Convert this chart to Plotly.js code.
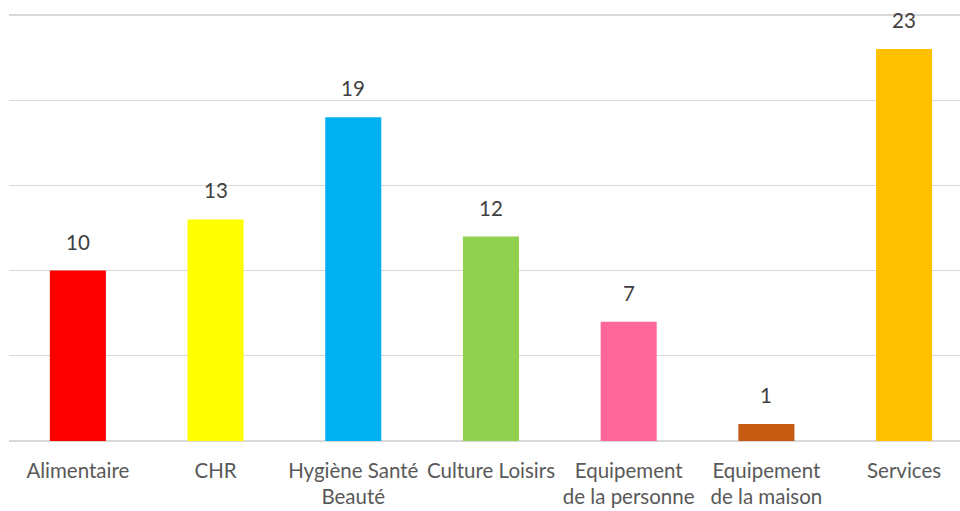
<!DOCTYPE html>
<html><head><meta charset="utf-8">
<script src="https://cdn.plot.ly/plotly-3.0.1.min.js"></script>
<style>html,body{margin:0;padding:0;background:#fff;}#chart{width:960px;height:511px;}</style>
</head><body><div id="chart"></div>
<script>
const categories = ["Alimentaire", "CHR", "Hygiène Santé<br>Beauté", "Culture Loisirs", "Equipement<br>de la personne", "Equipement<br>de la maison", "Services"];
const values = [10, 13, 19, 12, 7, 1, 23];
const barColors = ["#FF0000", "#FFFF00", "#00B0F0", "#92D050", "#FF6699", "#C55A11", "#FFC000"];
const yTicks = [0, 5, 10, 15, 20, 25];

const idx = categories.map((c, i) => i);
const trace = {
  type: 'bar', x: idx, y: values, width: 0.407,
  marker: {color: barColors}, hoverinfo: 'none'
};
const annotations = values.map((v, i) => ({
  x: i, y: v, xref: 'x', yref: 'y', text: String(v), showarrow: false,
  yanchor: 'bottom', yshift: 15,
  font: {family: 'Lato, sans-serif', size: 20.5, color: '#404040'}
}));
const layout = {
  width: 960, height: 511,
  margin: {l: 9, r: 0, t: 14, b: 70},
  paper_bgcolor: '#fff', plot_bgcolor: '#fff',
  showlegend: false,
  xaxis: {
    range: [-0.5, 6.406], tickvals: idx, ticktext: categories,
    showgrid: false, zeroline: false, showline: false,
    ticks: 'outside', ticklen: 11, tickcolor: 'rgba(0,0,0,0)',
    tickfont: {family: 'Lato, sans-serif', size: 20.5, color: '#595959'}
  },
  yaxis: {
    range: [0, 25.06], tickvals: yTicks, showticklabels: false,
    showgrid: true, gridcolor: '#d9d9d9', gridwidth: 1.3,
    zeroline: true, zerolinecolor: '#d9d9d9', zerolinewidth: 1.5
  },
  annotations: annotations
};
Plotly.newPlot('chart', [trace], layout, {displayModeBar: false, staticPlot: true});
</script></body></html>
